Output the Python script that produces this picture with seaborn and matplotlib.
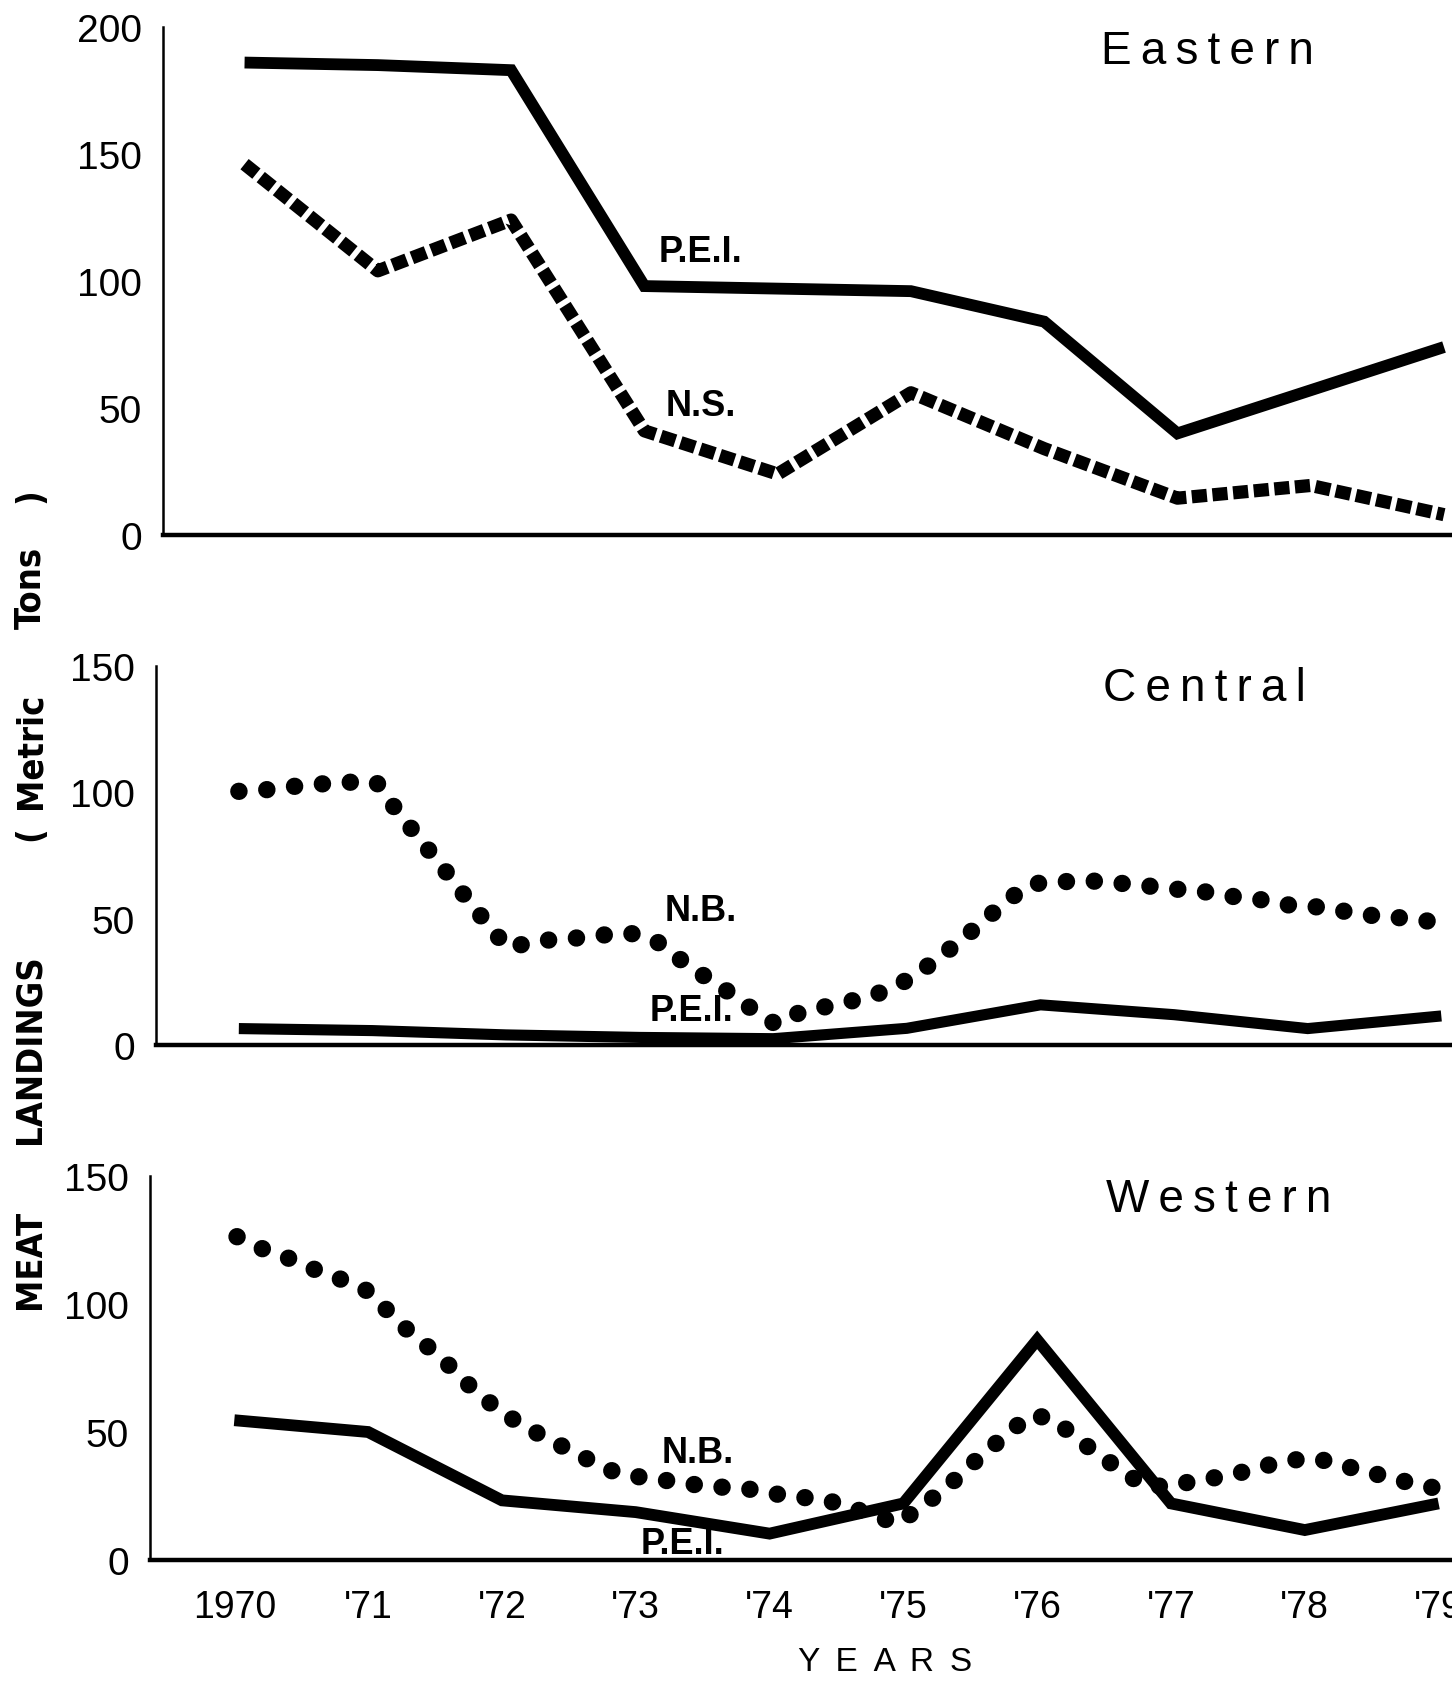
import matplotlib
matplotlib.use("Agg")
import matplotlib.pyplot as plt
from matplotlib import font_manager
import seaborn as sns

sns.set_theme(style="white")
plt.rcParams['font.family'] = ['Liberation Sans', 'DejaVu Sans']

# ---- data (metric tons) ----
years = [1970, 1971, 1972, 1973, 1974, 1975, 1976, 1977, 1978, 1979]
year_labels = ['1970', "'71", "'72", "'73", "'74", "'75", "'76", "'77", "'78", "'79"]

# Eastern
east_pei = [186, 185, 183, 98, 97, 96, 84, 40, 57, 74]
east_ns = [146, 104, 124, 41, 24, 56, 34, 14.5, 19.5, 8]

# Central
cent_pei = [6.5, 5.7, 4, 3, 2.5, 6.6, 15.9, 12, 6.5, 11.5]
cent_nb_x = [1970.0, 1970.2, 1970.4, 1970.61, 1970.82, 1971.03, 1971.17, 1971.31,
             1971.45, 1971.59, 1971.73, 1971.87, 1972.01, 1972.24, 1972.47, 1972.7,
             1972.92, 1973.12, 1973.3, 1973.48, 1973.67, 1973.85, 1974.02, 1974.2,
             1974.43, 1974.65, 1974.85, 1975.04, 1975.23, 1975.4, 1975.58, 1975.75,
             1975.93, 1976.13, 1976.34, 1976.56, 1976.78, 1976.99, 1977.21, 1977.44,
             1977.65, 1977.88, 1978.09, 1978.31, 1978.53, 1978.74, 1978.96]
cent_nb = [100.4, 101, 102.3, 103.3, 104, 104, 93.6, 84.4, 75.2, 66, 56.3, 47.4, 38.4,
           41.3, 42, 43.4, 44.4, 41.3, 34, 27.4, 20.8, 13.9, 8.2, 12.9, 15.6, 18.2,
           21.5, 26.8, 34.1, 41.3, 49.3, 57.2, 63.8, 64.5, 65.1, 64.2, 63.1, 61.8,
           60.8, 58.8, 57.5, 55.2, 54.6, 52.6, 50.9, 50.2, 48.6]

# Western
west_pei = [54.6, 50, 23.3, 18.7, 10.3, 22.1, 86, 22.1, 11.7, 22.1]
west_nb_x = [1970.02, 1970.21, 1970.41, 1970.6, 1970.79, 1971.0, 1971.15, 1971.3,
             1971.46, 1971.62, 1971.77, 1971.94, 1972.11, 1972.3, 1972.5, 1972.68,
             1972.87, 1973.09, 1973.31, 1973.51, 1973.72, 1973.93, 1974.14, 1974.36,
             1974.56, 1974.76, 1974.96, 1975.13, 1975.32, 1975.46, 1975.62, 1975.78,
             1975.95, 1976.11, 1976.27, 1976.44, 1976.61, 1976.79, 1976.99, 1977.2,
             1977.4, 1977.6, 1977.82, 1978.02, 1978.22, 1978.43, 1978.63, 1978.83,
             1979.0]
west_nb = [126.3, 121.6, 117.8, 113.5, 109.8, 105, 97.1, 89.5, 82.7, 75.3, 67.5, 60.1,
           54, 48.5, 43.1, 38.3, 33.7, 32, 30.5, 28.9, 28.2, 27.3, 24.7, 24.1, 21.5,
           17.6, 14.3, 20.8, 28, 35.2, 42.3, 49.5, 56.6, 55.3, 48.8, 41.7, 35.8, 29.3,
           28.6, 31.3, 32.6, 35.2, 38.4, 39.7, 38.4, 34.5, 32.6, 29.3, 28]

W, H = 1452, 1683
fig = plt.figure(figsize=(W / 100, H / 100), dpi=100)

# look for a narrow bold sans for the rotated axis title
narrow_file = None
for f in font_manager.fontManager.ttflist:
    fn = f.fname.replace('_', '').replace(' ', '')
    if 'SansNarrow-Bold.' in fn or 'Condensed-Bold.' in fn:
        narrow_file = f.fname
        break

TH = '\u2009'  # thin space, used for letter spacing


def spaced(s, sep):
    return sep.join(list(s))


def px_axes(left, top, bottom):
    # axes box from pixel positions, right edge is the figure edge
    return fig.add_axes([left / W, 1 - bottom / H, 1 - left / W, (bottom - top) / H])


def setup(ax, xlim, ymax, yticks, show_xlabels=False):
    ax.set_xlim(*xlim)
    ax.set_ylim(0, ymax)
    ax.set_yticks(yticks)
    ax.set_yticklabels([str(t) for t in yticks])
    ax.set_xticks(years)
    if show_xlabels:
        ax.set_xticklabels(year_labels)
    else:
        ax.set_xticklabels([])
    sns.despine(ax=ax)
    ax.spines['left'].set_linewidth(1.8)
    ax.spines['bottom'].set_linewidth(3.2)
    for s in ax.spines.values():
        s.set_color('black')
    ax.tick_params(axis='y', direction='out', length=14, width=2.2, labelsize=28,
                   pad=1, colors='black')
    ax.tick_params(axis='x', direction='out', length=13, width=1.5, labelsize=27,
                   pad=8, colors='black')
    ax.set_xlabel('')
    ax.set_ylabel('')
    ax.patch.set_alpha(0)


def solid(ax, x, y, lw=8.5):
    sns.lineplot(x=x, y=y, ax=ax, color='black', lw=lw, estimator=None, sort=False)
    ln = ax.lines[-1]
    ln.set_solid_joinstyle('miter')
    ln.set_solid_capstyle('butt')


def dotted(ax, x, y):
    sns.lineplot(x=x, y=y, ax=ax, color='black', lw=12.5, estimator=None, sort=False)
    ln = ax.lines[-1]
    ln.set_linestyle((0, (0.01, 1.6)))
    ln.set_dash_capstyle('round')


def dashed(ax, x, y):
    sns.lineplot(x=x, y=y, ax=ax, color='black', lw=9.5, estimator=None, sort=False)
    ln = ax.lines[-1]
    ln.set_linestyle((0, (1.15, 0.42)))
    ln.set_dash_capstyle('butt')


lab_kw = dict(fontsize=26, fontweight='bold', ha='center', va='center', color='black')

# ---- Eastern ----
ax1 = px_axes(163, 28, 536)
solid(ax1, years, east_pei)
dashed(ax1, years, east_ns)
setup(ax1, (1969.388, 1979.06), 200, [0, 50, 100, 150, 200])
ax1.text(1973.42, 111.5, 'P.E.I.', **lab_kw)
ax1.text(1973.42, 50.9, 'N.S.', **lab_kw)

# ---- Central ----
ax2 = px_axes(156, 667, 1046)
solid(ax2, years, cent_pei, lw=8)
dotted(ax2, cent_nb_x, cent_nb)
setup(ax2, (1969.38, 1979.08), 150, [0, 50, 100, 150])
ax2.text(1973.46, 53.2, 'N.B.', **lab_kw)
ax2.text(1973.39, 13.6, 'P.E.I.', **lab_kw)

# ---- Western ----
ax3 = px_axes(150, 1177, 1561)
solid(ax3, years, west_pei)
dotted(ax3, west_nb_x, west_nb)
setup(ax3, (1969.37, 1979.1), 150, [0, 50, 100, 150], show_xlabels=True)
ax3.text(1973.46, 42.1, 'N.B.', **lab_kw)
ax3.text(1973.35, 6.6, 'P.E.I.', **lab_kw)

# panel titles
title_kw = dict(fontsize=33, ha='center', va='center', color='black')
fig.text(1207 / W, 1 - 52 / H, spaced('Eastern', TH), **title_kw)
fig.text(1204 / W, 1 - 689 / H, spaced('Central', TH), **title_kw)
fig.text(1219 / W, 1 - 1200 / H, spaced('Western', TH), **title_kw)

# axis titles
fig.text(885 / W, 1 - 1663 / H, spaced('YEARS', ' ' + TH), fontsize=24, ha='center',
         va='center', color='black')
ylab_kw = dict(rotation=90, ha='center', va='center', color='black')
if narrow_file:
    ylab_kw['fontproperties'] = font_manager.FontProperties(fname=narrow_file, size=26)
else:
    ylab_kw.update(fontsize=25, fontweight='bold')
for word, yc in [('MEAT', 1259), ('LANDINGS', 1049), ('(', 834), ('Metric', 751),
                 ('Tons', 588), (')', 496)]:
    fig.text(30 / W, 1 - yc / H, word, **ylab_kw)

fig.savefig('out.png', dpi=100, facecolor='white')
